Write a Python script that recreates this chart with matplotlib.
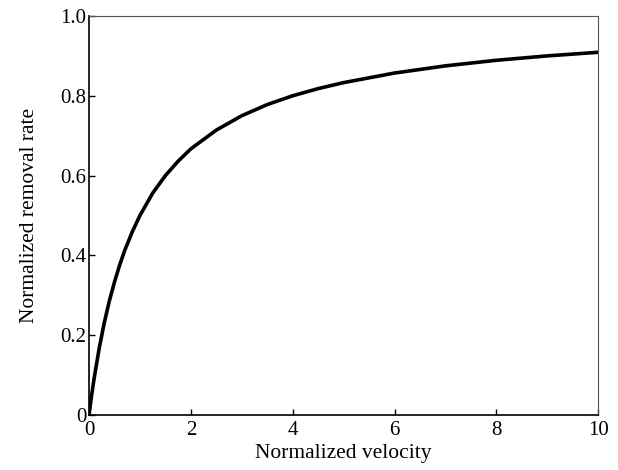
import matplotlib
matplotlib.use("Agg")
import matplotlib.pyplot as plt

# values
velocity = [0, 0.05, 0.1, 0.2, 0.3, 0.4, 0.5, 0.6, 0.7, 0.85, 1.0, 1.25, 1.5, 1.75,
            2.0, 2.5, 3.0, 3.5, 4.0, 4.5, 5.0, 6.0, 7.0, 8.0, 9.0, 10.0]
removal = [0, 0.048, 0.091, 0.167, 0.231, 0.286, 0.333, 0.375, 0.412, 0.459, 0.5,
           0.556, 0.6, 0.636, 0.667, 0.714, 0.75, 0.778, 0.8, 0.818, 0.833, 0.857,
           0.875, 0.889, 0.9, 0.909]
xticks = [0, 2, 4, 6, 8, 10]
yticks = [0, 0.2, 0.4, 0.6, 0.8, 1.0]
yticklabels = ["0", "0.2", "0.4", "0.6", "0.8", "1.0"]

plt.rcParams['font.family'] = ['Liberation Serif', 'DejaVu Serif']

fig = plt.figure(figsize=(6.18, 4.70), dpi=100)
ax = fig.add_axes([0.144, 0.117, 0.824, 0.849])
ax.plot(velocity, removal, color='black', linewidth=2.6, solid_capstyle='butt')
ax.set_xlim([0, 10])
ax.set_ylim([0, 1.0])
ax.set_xticks(xticks)
ax.set_xticklabels([str(t) for t in xticks])
ax.set_yticks(yticks)
ax.set_yticklabels(yticklabels)
ax.tick_params(direction='in', length=4.5, width=1, labelsize=15,
               top=False, right=False)
ax.tick_params(axis='x', pad=4)
ax.tick_params(axis='y', pad=2)
for side in ['top', 'right']:
    ax.spines[side].set_color('#555555')
for side in ['bottom', 'left']:
    ax.spines[side].set_linewidth(1.2)
ax.set_xlabel("Normalized velocity", fontsize=15.5, labelpad=3)
ax.set_ylabel("Normalized removal rate", fontsize=15.5, labelpad=15)
fig.savefig("out.png", dpi=100)
